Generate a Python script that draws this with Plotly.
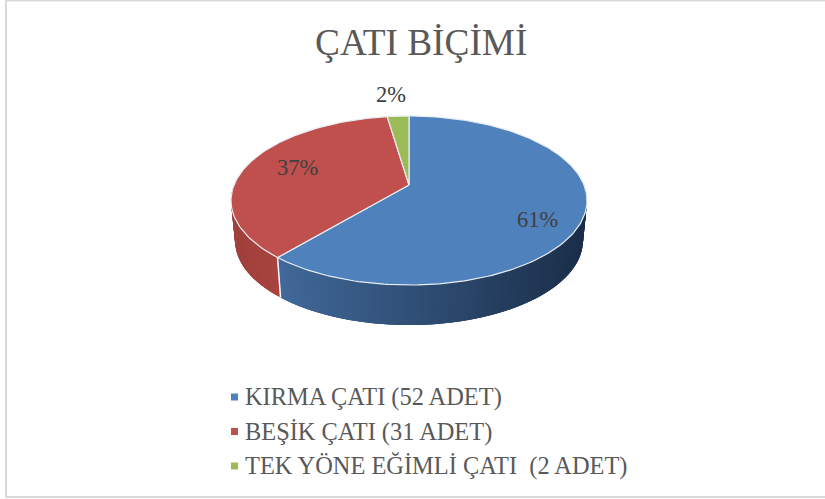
import numpy as np
import plotly.graph_objects as go

categories = ["KIRMA ÇATI (52 ADET)", "BEŞİK ÇATI (31 ADET)", "TEK YÖNE EĞİMLİ ÇATI  (2 ADET)"]
values = [52, 31, 2]
percent_labels = ["61%", "37%", "2%"]
top_colors = ["#4f81bd", "#c0504d", "#9bbb59"]
side_left = ["#41699a", "#a0403c", "#7d9647"]
side_right = ["#1b2f4a", "#a8433f", "#7d9647"]
text_color = "#595959"
label_color = "#404040"
title = "ÇATI BİÇİMİ"

W, H = 825, 499
CX, TOP_Y, BOT_Y = 409, 185, 225
S_TOP, S_BOT, A, K = 175, 171, 81.7, 0.1834


def project(theta, s, y0):
    """theta is clockwise from north; perspective projection of the pie disc."""
    X, Y = np.sin(theta), np.cos(theta)
    w = 1 + K * Y
    return CX + s * X / w, y0 - A * Y / w


def hex_mix(a, b, t):
    ca = [int(a[i:i + 2], 16) for i in (1, 3, 5)]
    cb = [int(b[i:i + 2], 16) for i in (1, 3, 5)]
    return "rgb(%d,%d,%d)" % tuple(round(p + (q - p) * t) for p, q in zip(ca, cb))


fractions = np.array(values) / sum(values)
edges = np.concatenate([[0], np.cumsum(fractions)]) * 2 * np.pi
fig = go.Figure()


def poly(xs, ys, fill, line=None, width=0):
    fig.add_trace(go.Scatter(x=xs, y=ys, mode="lines", fill="toself", fillcolor=fill,
                             line=dict(color=line or fill, width=width),
                             hoverinfo="skip", showlegend=False))


# side wall: thin strips that overlap the next one, so no seams show
VIS_A, VIS_B = np.radians(87), np.radians(273)
for i in range(len(values)):
    a, b = max(edges[i], VIS_A), min(edges[i + 1], VIS_B)
    if b <= a:
        continue
    n = max(2, int((b - a) / np.radians(1.0)))
    tt = np.linspace(a, b, n + 1)
    lo, hi = project(b, S_TOP, TOP_Y)[0], project(a, S_TOP, TOP_Y)[0]
    for j in range(n):
        seg = np.linspace(tt[j], tt[min(j + 3, n)], 6)
        x1, y1 = project(seg, S_TOP, TOP_Y)
        x2, y2 = project(seg[::-1], S_BOT, BOT_Y)
        t = (project(tt[j], S_TOP, TOP_Y)[0] - lo) / max(hi - lo, 1)
        poly(np.r_[x1, x2], np.r_[y1, y2], hex_mix(side_left[i], side_right[i], float(t)))

# white seam between the walls
seam = edges[1]
xa, ya = project(seam, S_TOP, TOP_Y)
xb, yb = project(seam, S_BOT, BOT_Y)
fig.add_trace(go.Scatter(x=[xa, xb], y=[ya, yb], mode="lines", line=dict(color="white", width=1.5),
                         hoverinfo="skip", showlegend=False))

# top face
for i in range(len(values)):
    tt = np.linspace(edges[i], edges[i + 1], max(8, int((edges[i + 1] - edges[i]) / 0.02)))
    x, y = project(tt, S_TOP, TOP_Y)
    poly(np.r_[CX, x, CX], np.r_[TOP_Y, y, TOP_Y], top_colors[i], line="#e9eef5", width=1.2)

# legend markers
legend_x, legend_text_x, legend_ys = 234.5, 243, [397, 431.5, 466]
for c, y, name in zip(top_colors, legend_ys, categories):
    fig.add_trace(go.Scatter(x=[legend_x], y=[y], mode="markers", name=name,
                             marker=dict(symbol="square", size=7, color=c),
                             hoverinfo="skip", showlegend=False))

ann = []
for name, y in zip(categories, legend_ys):
    ann.append(dict(x=legend_text_x, y=y, text=name, xanchor="left", yanchor="middle", showarrow=False,
                    font=dict(family="Liberation Serif", size=24.4, color=text_color)))
label_pos = [(537, 219), (297, 167), (391, 94)]
for t, (x, y) in zip(percent_labels, label_pos):
    ann.append(dict(x=x, y=y, text=t, xanchor="center", yanchor="middle", showarrow=False,
                    font=dict(family="Liberation Serif", size=22.5, color=label_color)))
ann.append(dict(x=421, y=42, text=title, xanchor="center", yanchor="middle", showarrow=False,
                font=dict(family="Liberation Serif", size=37.3, color=text_color)))

fig.update_layout(
    width=W, height=H, margin=dict(l=0, r=0, t=0, b=0),
    paper_bgcolor="white", plot_bgcolor="white", showlegend=False, annotations=ann,
    xaxis=dict(range=[0, W], visible=False, fixedrange=True),
    yaxis=dict(range=[H, 0], visible=False, fixedrange=True),
    shapes=[dict(type="rect", x0=6, y0=0.5, x1=830, y1=497, line=dict(color="#d9d9d9", width=2),
                 fillcolor="rgba(0,0,0,0)", layer="below")],
)
fig.write_html("out.html", config={"displayModeBar": False},
               post_script="document.body.style.margin='0';document.body.style.overflow='hidden';")
